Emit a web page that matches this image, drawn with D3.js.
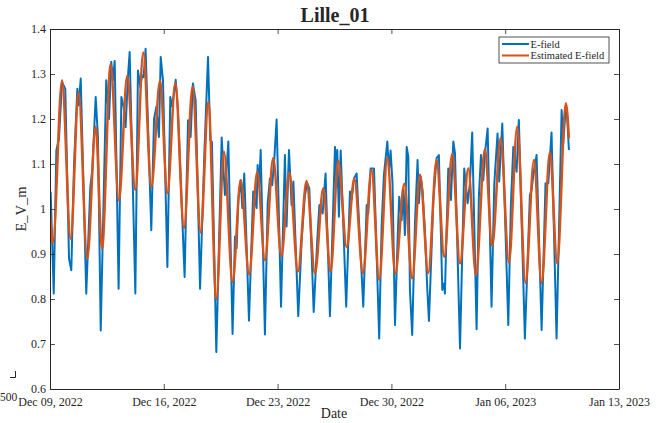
<!DOCTYPE html>
<html>
<head>
<meta charset="utf-8">
<script src="https://cdn.jsdelivr.net/npm/d3@7"></script>
<style>
  html, body { margin: 0; padding: 0; background: #fff; }
  svg { display: block; }
  text { font-family: "Liberation Serif", "DejaVu Serif", serif; fill: #262626; }
</style>
</head>
<body>
<svg id="chart" width="668" height="423"></svg>
<script>
// ---------------- data ----------------
const startDate = "2022-12-09";
const xTickLabels = ["Dec 09, 2022", "Dec 16, 2022", "Dec 23, 2022", "Dec 30, 2022", "Jan 06, 2023", "Jan 13, 2023"];
const yTicks = [0.6, 0.7, 0.8, 0.9, 1.0, 1.1, 1.2, 1.3, 1.4];
const seriesNames = ["E-field", "Estimated E-field"];

// E-field: days since Dec 09, 2022 00:00
const efieldDay = [
  0.04, 0.23, 0.39, 0.55, 0.74, 0.94, 1.17, 1.31, 1.48, 1.68, 1.76, 1.89,
  2.23, 2.48, 2.60, 2.81, 2.95, 3.12, 3.46, 3.63, 3.77, 3.87, 3.98,
  4.22, 4.39, 4.53, 4.65, 4.80, 4.90, 5.25, 5.41, 5.56, 5.66, 5.76, 5.88,
  6.23, 6.40, 6.54, 6.70, 6.81, 6.95, 7.22, 7.40, 7.52, 7.73, 7.87,
  8.28, 8.49, 8.65, 8.79, 8.96, 9.23, 9.51, 9.72, 9.86, 9.96,
  10.23, 10.56, 10.76, 10.97, 11.23, 11.38, 11.48, 11.58, 11.73, 11.83, 11.95,
  12.24, 12.50, 12.71, 12.77, 12.87, 12.96, 13.22, 13.39, 13.53, 13.67, 13.80, 13.94,
  14.21, 14.45, 14.55, 14.70, 14.86, 14.97, 15.27, 15.48, 15.68, 15.83, 15.95,
  16.22, 16.44, 16.57, 16.77, 16.95, 17.22, 17.53, 17.63, 17.67, 17.77, 17.88,
  18.22, 18.45, 18.55, 18.70, 18.86, 19.27, 19.48, 19.58, 19.72, 19.93,
  20.25, 20.40, 20.54, 20.75, 20.85, 20.95, 21.07, 21.22, 21.38, 21.48, 21.63, 21.73, 21.83, 21.94,
  22.04, 22.14, 22.28, 22.45, 22.61, 22.69, 22.80, 22.92, 23.06, 23.21, 23.31, 23.58, 23.78, 23.92,
  24.05, 24.13, 24.25, 24.29, 24.50, 24.66, 24.81, 24.91, 25.22, 25.48, 25.69, 25.83, 25.97,
  26.24, 26.38, 26.51, 26.65, 26.79, 26.92, 27.16, 27.33, 27.53, 27.63, 27.82,
  28.19, 28.35, 28.50, 28.70, 28.84, 29.21, 29.52, 29.62, 29.73, 29.93,
  30.24, 30.48, 30.65, 30.85, 31.16, 31.47, 31.57, 31.67, 31.78, 31.92
];
const efieldValue = [
  1.038, 0.812, 1.130, 1.156, 1.282, 1.267, 0.890, 0.864, 1.100, 1.267, 1.230, 1.290,
  0.812, 1.049, 1.086, 1.249, 1.160, 0.730, 1.286, 1.200, 1.327, 1.286, 1.329,
  0.823, 1.249, 1.227, 1.182, 1.297, 1.349, 0.812, 1.308, 1.271, 1.297, 1.293, 1.356,
  0.953, 1.200, 1.227, 1.160, 1.338, 1.286, 0.871, 1.249, 1.227, 1.287, 1.219,
  0.849, 1.197, 1.160, 1.279, 1.241, 0.823, 1.138, 1.338, 1.153, 1.149,
  0.682, 1.159, 1.031, 1.150, 0.722, 0.939, 0.913, 1.020, 1.064, 1.002, 1.079,
  0.752, 1.039, 1.002, 1.098, 1.050, 1.131, 0.721, 1.013, 1.068, 1.053, 1.113, 1.199,
  0.783, 1.120, 0.961, 1.131, 1.009, 1.061, 0.762, 0.931, 1.031, 1.057, 1.046,
  0.771, 0.931, 1.009, 0.990, 1.079, 0.762, 1.138, 1.050, 1.131, 0.983, 1.130,
  0.783, 1.039, 1.020, 1.068, 1.079, 0.783, 1.009, 0.990, 1.090, 1.090,
  0.712, 0.964, 1.076, 1.150, 1.083, 1.130, 1.057, 0.742, 0.931, 1.027, 0.975, 1.042, 0.942, 1.138,
  1.116, 0.820, 0.720, 0.968, 1.109, 1.013, 1.072, 1.039, 0.953, 0.820, 0.751, 1.020, 1.113, 1.120,
  0.938, 0.820, 0.835, 0.812, 1.090, 1.020, 1.150, 1.124, 0.690, 1.090, 1.013, 1.057, 1.170,
  0.733, 1.027, 1.120, 1.064, 1.135, 1.179, 0.783, 1.057, 1.168, 1.061, 1.190,
  0.742, 1.009, 1.138, 1.083, 1.198, 0.712, 1.031, 1.042, 1.075, 1.120,
  0.731, 1.057, 1.057, 1.170, 0.712, 1.220, 1.146, 1.198, 1.225, 1.131
];

// Estimated E-field: daily troughs and peaks
const estDay = [
  0.00, 0.18, 0.74, 1.27, 1.76, 2.29, 2.81, 3.20, 3.73, 4.24, 4.75, 5.25, 5.74, 6.23, 6.77,
  7.22, 7.71, 8.24, 8.77, 9.27, 9.74, 10.23, 10.70, 11.23, 11.73, 12.25, 12.75, 13.22, 13.73,
  14.23, 14.72, 15.25, 15.78, 16.30, 16.81, 17.26, 17.73, 18.25, 18.72, 19.25, 19.78, 20.25, 20.75,
  21.24, 21.79, 22.28, 22.76, 23.27, 23.78, 24.25, 24.74, 25.22, 25.73, 26.20, 26.75, 27.20, 27.72,
  28.23, 28.74, 29.25, 29.77, 30.24, 30.75, 31.20, 31.73, 31.92
];
const estValue = [
  0.99, 0.925, 1.286, 0.934, 1.260, 0.890, 1.183, 0.912, 1.321, 1.019, 1.296, 1.042, 1.348, 1.049, 1.285,
  1.035, 1.280, 0.958, 1.272, 0.948, 1.238, 0.800, 1.127, 0.838, 1.064, 0.855, 1.083, 0.886, 1.113,
  0.895, 1.081, 0.861, 1.062, 0.857, 1.046, 0.861, 1.107, 0.915, 1.068, 0.858, 1.087, 0.843, 1.114,
  0.857, 1.056, 0.846, 1.076, 0.858, 1.109, 0.894, 1.122, 0.879, 1.090, 0.853, 1.133, 0.918, 1.157,
  0.881, 1.183, 0.836, 1.109, 0.836, 1.126, 0.879, 1.235, 1.157
];

// ---------------- drawing ----------------
const m = { left: 50, right: 619, top: 29, bottom: 389 };
const axisColor = "#262626";
const colors = ["#0072BD", "#D95319"];
const dayMs = 864e5;
const t0 = new Date(startDate + "T00:00:00Z").getTime();
const toDate = d => new Date(t0 + d * dayMs);
const tickDates = xTickLabels.map(s => d3.utcParse("%b %d, %Y")(s));

const svg = d3.select("#chart");

const x = d3.scaleUtc()
  .domain([tickDates[0], tickDates[tickDates.length - 1]])
  .range([m.left, m.right]);
const y = d3.scaleLinear()
  .domain([yTicks[0], yTicks[yTicks.length - 1]])
  .range([m.bottom, m.top]);

const efield = efieldDay.map((d, i) => ({ t: toDate(d), v: efieldValue[i] }));
const est = estDay.map((d, i) => ({ t: toDate(d), v: estValue[i] }));

svg.append("clipPath").attr("id", "plotclip")
  .append("rect").attr("x", m.left).attr("y", m.top)
  .attr("width", m.right - m.left).attr("height", m.bottom - m.top);

const plot = svg.append("g").attr("clip-path", "url(#plotclip)");

plot.append("path")
  .datum(efield)
  .attr("fill", "none")
  .attr("stroke", colors[0])
  .attr("stroke-width", 2)
  .attr("stroke-linejoin", "round")
  .attr("d", d3.line().x(d => x(d.t)).y(d => y(d.v)));

plot.append("path")
  .datum(est)
  .attr("fill", "none")
  .attr("stroke", colors[1])
  .attr("stroke-width", 2.5)
  .attr("stroke-linejoin", "round")
  .attr("d", d3.line().curve(d3.curveMonotoneX).x(d => x(d.t)).y(d => y(d.v)));

// axes (MATLAB style: box with inward ticks on all sides)
const tickLen = 5;
const fmtX = d3.utcFormat("%b %d, %Y");

const xAxisB = svg.append("g").attr("transform", `translate(0,${m.bottom})`)
  .call(d3.axisBottom(x).tickValues(tickDates).tickFormat(fmtX).tickSizeInner(-tickLen).tickSizeOuter(0).tickPadding(10));
const xAxisT = svg.append("g").attr("transform", `translate(0,${m.top})`)
  .call(d3.axisTop(x).tickValues(tickDates).tickFormat("").tickSizeInner(-tickLen).tickSizeOuter(0));
const yAxisL = svg.append("g").attr("transform", `translate(${m.left},0)`)
  .call(d3.axisLeft(y).tickValues(yTicks).tickFormat(d => d === 1 ? "1" : d3.format(".1f")(d)).tickSizeInner(-tickLen).tickSizeOuter(0).tickPadding(4));
const yAxisR = svg.append("g").attr("transform", `translate(${m.right},0)`)
  .call(d3.axisRight(y).tickValues(yTicks).tickFormat("").tickSizeInner(-tickLen).tickSizeOuter(0));

[xAxisB, xAxisT, yAxisL, yAxisR].forEach(g => {
  g.selectAll(".domain").attr("stroke", axisColor).attr("stroke-width", 1);
  g.selectAll(".tick line").attr("stroke", axisColor).attr("stroke-width", 0.8);
  g.selectAll("text").attr("fill", axisColor)
    .style("font-family", '"Liberation Serif", serif').style("font-size", "12px");
});
xAxisB.selectAll(".tick text").attr("dy", "0.6em");
yAxisL.selectAll(".tick text").attr("dy", "0.28em");

// Title
svg.append("text")
  .attr("x", 335).attr("y", 22)
  .attr("text-anchor", "middle")
  .style("font-size", "20px").style("font-weight", "bold")
  .text("Lille_01");

// Axis labels
svg.append("text")
  .attr("x", 334).attr("y", 418)
  .attr("text-anchor", "middle")
  .style("font-size", "14px")
  .text("Date");

svg.append("text")
  .attr("transform", `translate(26,${(m.top + m.bottom) / 2}) rotate(-90)`)
  .attr("text-anchor", "middle")
  .style("font-size", "14.5px")
  .text("E_V_m");

// stray artifacts at lower-left corner
svg.append("path")
  .attr("d", "M10,377.5H15.5V371")
  .attr("fill", "none").attr("stroke", axisColor).attr("stroke-width", 1);
svg.append("text")
  .attr("x", 0).attr("y", 401)
  .style("font-size", "11.5px")
  .text("500");

// Legend
const lg = svg.append("g");
const lx = 499, ly = 37, lw = 110, lh = 26;
lg.append("rect").attr("x", lx).attr("y", ly).attr("width", lw).attr("height", lh)
  .attr("fill", "#fff").attr("stroke", axisColor).attr("stroke-width", 0.8);
seriesNames.forEach((name, i) => {
  const yy = ly + 7 + i * 11.5;
  lg.append("line").attr("x1", lx + 3).attr("x2", lx + 30).attr("y1", yy).attr("y2", yy)
    .attr("stroke", colors[i]).attr("stroke-width", 2);
  lg.append("text").attr("x", lx + 31.5).attr("y", yy + 3.6)
    .style("font-size", "10.5px").text(name);
});
</script>
</body>
</html>
